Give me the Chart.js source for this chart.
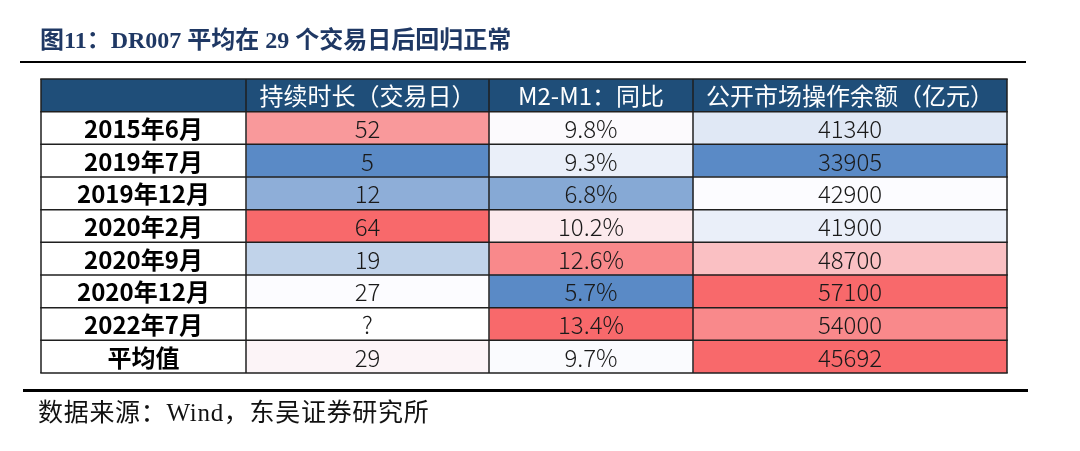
<!DOCTYPE html>
<html>
<head>
<meta charset="utf-8">
<script src="https://cdn.jsdelivr.net/npm/chart.js@4/dist/chart.umd.min.js"></script>
<style>
  html, body { margin: 0; padding: 0; background: #fff; }
  #wrap { position: relative; width: 1080px; height: 451px; overflow: hidden; }
  #c { position: absolute; left: 0; top: 0; }
  .title { position: absolute; left: 40px; top: 27px; line-height: 26px; font-size: 24px; font-weight: bold;
           font-family: "Liberation Serif", "Noto Sans CJK SC", serif; color: #1F3864; white-space: nowrap; }
  .rule { position: absolute; background: #000; }
  .source { position: absolute; left: 38px; top: 399px; line-height: 28px; font-size: 25px; letter-spacing: 0.7px;
            font-family: "Liberation Serif", "Noto Sans CJK SC", serif; color: #111; white-space: nowrap; }
</style>
</head>
<body>
<div id="wrap">
  <canvas id="c" width="1080" height="451"></canvas>
  <div class="title">图11：DR007 平均在 29 个交易日后回归正常</div>
  <div class="rule" style="left:20px; top:61px; width:1006px; height:2px;"></div>
  <div class="rule" style="left:23px; top:389px; width:1005px; height:3px;"></div>
  <div class="source">数据来源：Wind，东吴证券研究所</div>
</div>
<script>
// ---- data ----
const categories = ['2015年6月', '2019年7月', '2019年12月', '2020年2月', '2020年9月', '2020年12月', '2022年7月', '平均值'];
const headers = ['', '持续时长（交易日）', 'M2-M1：同比', '公开市场操作余额（亿元）'];
const duration = [52, 5, 12, 64, 19, 27, null, 29];
const m2m1 = [9.8, 9.3, 6.8, 10.2, 12.6, 5.7, 13.4, 9.7];
const omoBalance = [41340, 33905, 42900, 41900, 48700, 57100, 54000, 45692];

// ---- layout / style ----
const colEdges = [0, 205, 448, 652, 966];
const HEADER_BG = '#1F4E79';
const LOW = [90, 138, 198], MID = [252, 252, 255], HIGH = [248, 105, 107];

function median(a) {
  const s = a.slice().sort((x, y) => x - y);
  const n = s.length;
  return n % 2 ? s[(n - 1) / 2] : (s[n / 2 - 1] + s[n / 2]) / 2;
}
function mix(a, b, t) {
  return 'rgb(' + a.map((v, i) => Math.round(v + (b[i] - v) * t)).join(',') + ')';
}
function scaleColors(values, rangeIdx) {
  const pool = rangeIdx.map(i => values[i]).filter(v => v != null);
  const mn = Math.min(...pool), mx = Math.max(...pool), md = median(pool);
  return values.map(v => {
    if (v == null) return '#ffffff';
    if (v >= md) return mx === md ? mix(MID, HIGH, 1) : mix(MID, HIGH, Math.min(1, (v - md) / (mx - md)));
    return mix(MID, LOW, Math.min(1, (md - v) / (md - mn)));
  });
}
const allRows = categories.map((_, i) => i);
const histRows = allRows.slice(0, categories.length - 1);
const durColors = scaleColors(duration, allRows);
const m2Colors = scaleColors(m2m1, allRows);
const omoColors = scaleColors(omoBalance, histRows);
// average row of the balance column carries its own single-cell scale (max colour)
omoColors[omoColors.length - 1] = mix(MID, HIGH, 1);

const rowLabels = [''].concat(categories);
const texts = [
  [headers[0]].concat(categories),
  [headers[1]].concat(duration.map(v => v == null ? '?' : String(v))),
  [headers[2]].concat(m2m1.map(v => v.toFixed(1) + '%')),
  [headers[3]].concat(omoBalance.map(v => String(v)))
];
const fills = [
  [HEADER_BG].concat(categories.map(() => '#ffffff')),
  [HEADER_BG].concat(durColors),
  [HEADER_BG].concat(m2Colors),
  [HEADER_BG].concat(omoColors)
];

const datasets = [0, 1, 2, 3].map(c => ({
  data: rowLabels.map(() => [colEdges[c], colEdges[c + 1]]),
  backgroundColor: fills[c],
  borderWidth: 0,
  barPercentage: 1,
  categoryPercentage: 1,
  grouped: false
}));

const tablePlugin = {
  id: 'tablePlugin',
  afterDatasetsDraw(chart) {
    const ctx = chart.ctx;
    const xs = chart.scales.x;
    // text
    chart.data.datasets.forEach((ds, c) => {
      const meta = chart.getDatasetMeta(c);
      meta.data.forEach((el, r) => {
        const cx = (el.x + el.base) / 2;
        const cy = el.y;
        const t = texts[c][r];
        if (!t) return;
        ctx.save();
        ctx.textAlign = 'center';
        ctx.textBaseline = 'middle';
        if (r === 0) {
          ctx.fillStyle = '#ffffff';
          ctx.font = '24px "Noto Sans CJK SC", sans-serif';
        } else if (c === 0) {
          ctx.fillStyle = '#000000';
          ctx.font = 'bold 24px "Noto Sans CJK SC", sans-serif';
        } else {
          ctx.fillStyle = '#1a1a1a';
          ctx.font = '300 24px "Noto Sans CJK SC", sans-serif';
        }
        ctx.fillText(t, cx, cy + 1);
        ctx.restore();
      });
    });
    // grid lines
    const meta0 = chart.getDatasetMeta(0);
    const ys = [];
    meta0.data.forEach((el, r) => {
      if (r === 0) ys.push(el.y - el.height / 2);
      ys.push(el.y + el.height / 2);
    });
    const x0 = xs.getPixelForValue(colEdges[0]);
    const x1 = xs.getPixelForValue(colEdges[colEdges.length - 1]);
    ctx.save();
    ctx.strokeStyle = '#1f1f1f';
    ctx.lineWidth = 1.5;
    ys.forEach(y => {
      ctx.beginPath(); ctx.moveTo(x0 - 0.75, y); ctx.lineTo(x1 + 0.75, y); ctx.stroke();
    });
    colEdges.forEach(e => {
      const x = xs.getPixelForValue(e);
      ctx.beginPath(); ctx.moveTo(x, ys[0]); ctx.lineTo(x, ys[ys.length - 1]); ctx.stroke();
    });
    ctx.restore();
  }
};

new Chart(document.getElementById('c'), {
  type: 'bar',
  data: { labels: rowLabels, datasets },
  options: {
    indexAxis: 'y',
    responsive: false,
    animation: false,
    layout: { padding: { left: 41, right: 73, top: 79, bottom: 78 } },
    plugins: { legend: { display: false }, tooltip: { enabled: false }, title: { display: false } },
    scales: {
      x: { type: 'linear', min: colEdges[0], max: colEdges[colEdges.length - 1], display: false },
      y: { type: 'category', display: false, offset: true }
    }
  },
  plugins: [tablePlugin]
});
</script>
</body>
</html>
